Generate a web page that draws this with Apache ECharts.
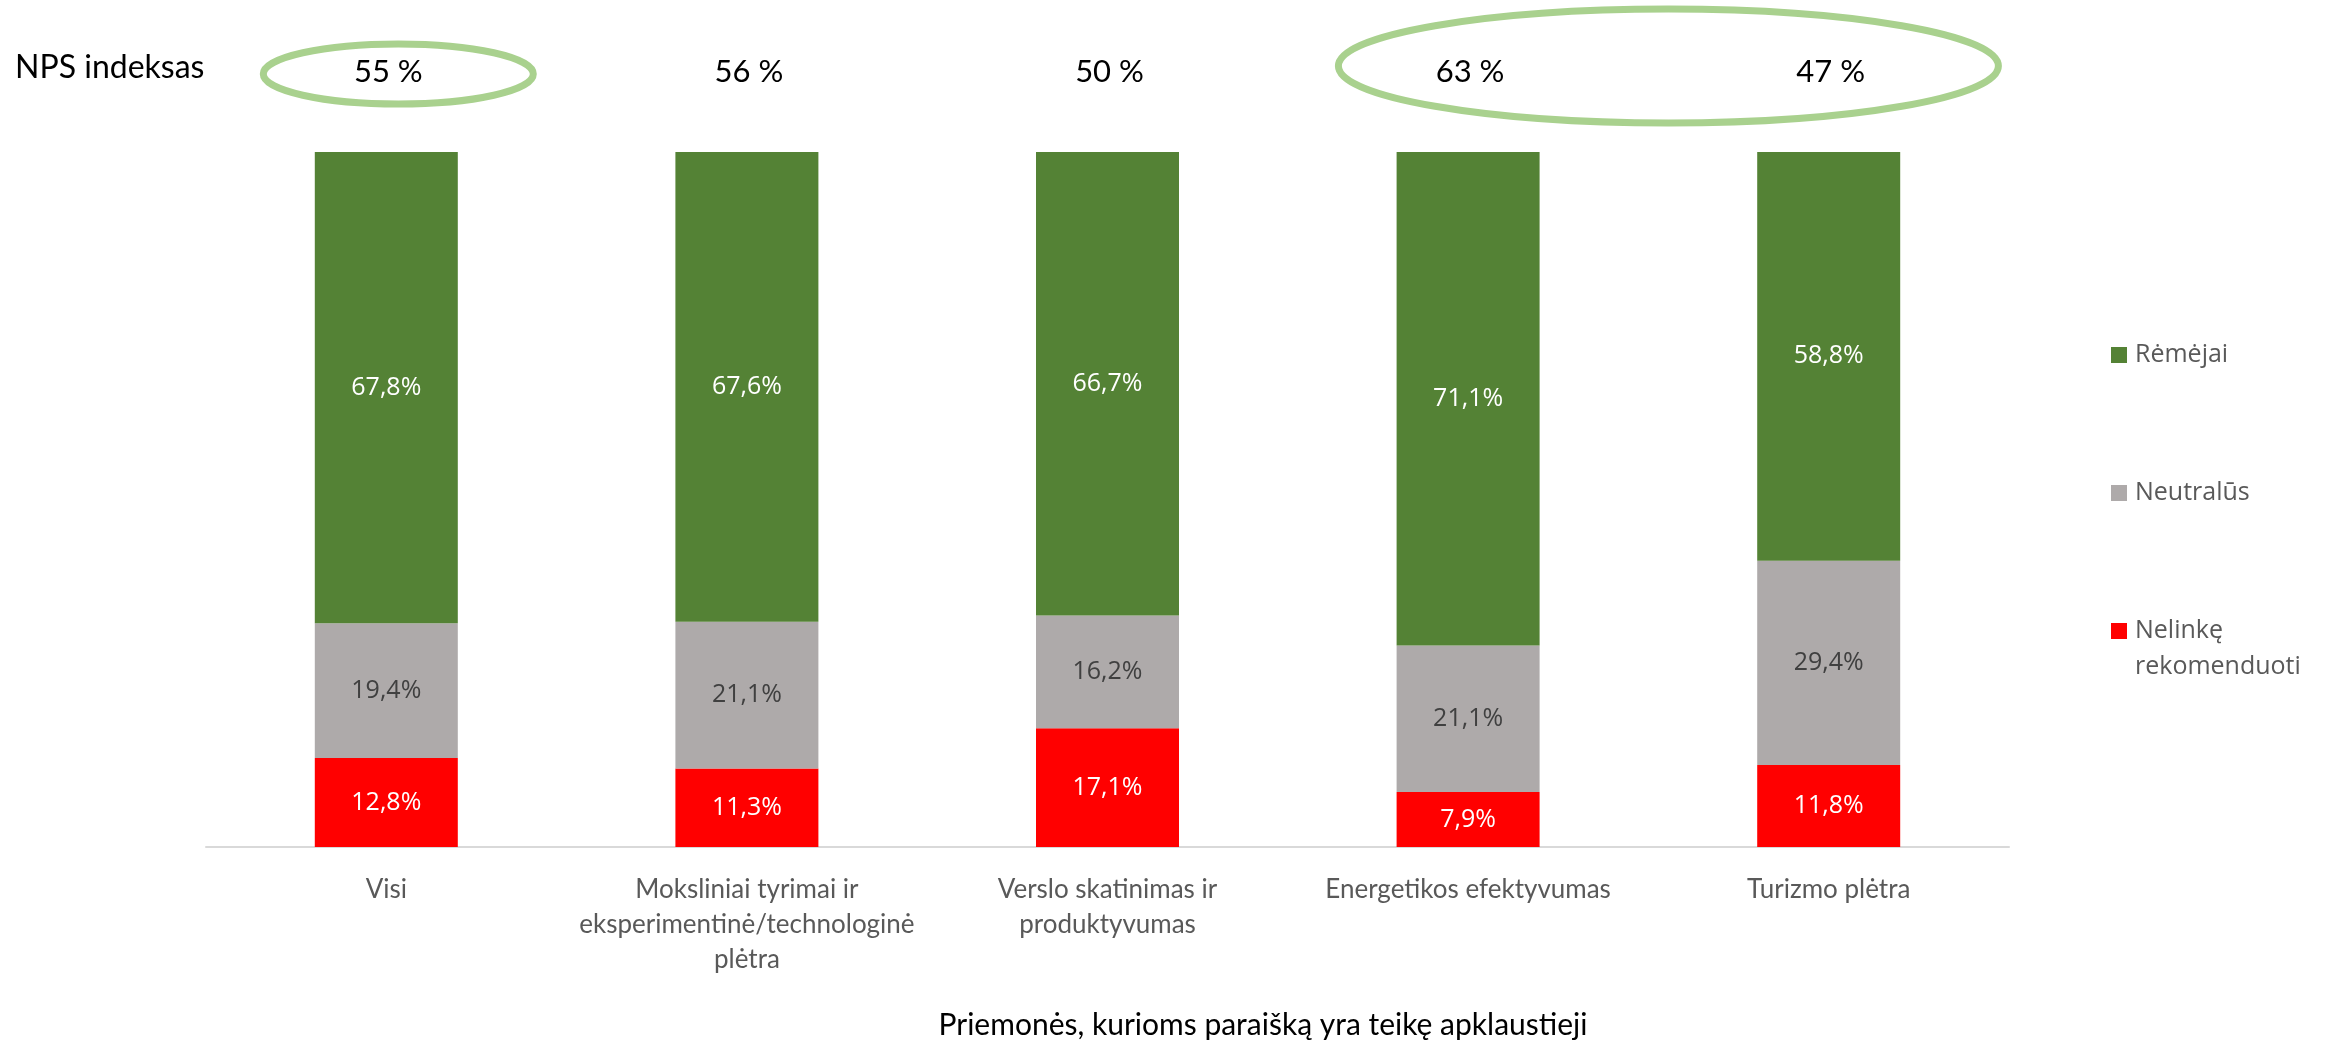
<!DOCTYPE html>
<html>
<head>
<meta charset="utf-8">
<script src="https://cdn.jsdelivr.net/npm/echarts@6/dist/echarts.min.js"></script>
<style>
html,body{margin:0;padding:0;background:#fff;}
#chart{width:2330px;height:1041px;}
</style>
</head>
<body>
<div id="chart"></div>
<script>
const categories = ['Visi', 'Moksliniai tyrimai ir\neksperimentinė/technologinė\nplėtra', 'Verslo skatinimas ir\nproduktyvumas', 'Energetikos efektyvumas', 'Turizmo plėtra'];
const nelinke = [12.8, 11.3, 17.1, 7.9, 11.8];
const neutralus = [19.4, 21.1, 16.2, 21.1, 29.4];
const remejai = [67.8, 67.6, 66.7, 71.1, 58.8];
const npsIndex = [55, 56, 50, 63, 47];
const seriesNames = ['Rėmėjai', 'Neutralūs', 'Nelinkę rekomenduoti'];

const fmt = p => p.value.toFixed(1).replace('.', ',') + '%';
const labelBase = {show: true, position: 'inside', formatter: fmt, fontFamily: 'Open Sans', fontSize: 25};

const chart = echarts.init(document.getElementById('chart'), null, {renderer: 'canvas'});
const legendBase = {orient: 'vertical', left: 2111, padding: 0, itemWidth: 16, itemHeight: 16, icon: 'rect', selectedMode: false,
  textStyle: {fontFamily: 'Open Sans', fontSize: 25, color: '#595959', lineHeight: 36, padding: [0, 0, 0, 3]}};

chart.setOption({
  animation: false,
  backgroundColor: '#fff',
  grid: {left: 206, right: 321, top: 152, bottom: 194, containLabel: false, outerBoundsMode: 'none'},
  legend: [
    Object.assign({}, legendBase, {data: [seriesNames[0]], top: 355 - 18}),
    Object.assign({}, legendBase, {data: [seriesNames[1]], top: 493 - 18}),
    Object.assign({}, legendBase, {data: [seriesNames[2]], top: 631 - 54,
      formatter: () => '\nNelinkę\nrekomenduoti'})
  ],
  xAxis: {
    type: 'category', data: categories,
    axisLine: {show: true, lineStyle: {color: '#d9d9d9', width: 2}},
    axisTick: {show: false},
    axisLabel: {interval: 0, margin: 25, fontFamily: 'Lato', fontSize: 26, lineHeight: 35, color: '#595959'}
  },
  yAxis: {type: 'value', min: 0, max: 100, show: false, splitLine: {show: false}},
  series: [
    {name: seriesNames[2], type: 'bar', stack: 'a', data: nelinke, barWidth: 143,
      itemStyle: {color: '#FF0000'}, label: Object.assign({}, labelBase, {color: '#ffffff'})},
    {name: seriesNames[1], type: 'bar', stack: 'a', data: neutralus, barWidth: 143,
      itemStyle: {color: '#AEAAAA'}, label: Object.assign({}, labelBase, {color: '#404040'})},
    {name: seriesNames[0], type: 'bar', stack: 'a', data: remejai, barWidth: 143,
      itemStyle: {color: '#548235'}, label: Object.assign({}, labelBase, {color: '#ffffff'})}
  ]
});

const xs = categories.map((c, i) => chart.convertToPixel({xAxisIndex: 0}, i));
const gfx = [];
gfx.push({type: 'text', left: 15, top: 72 - 20, style: {text: 'NPS indeksas', fontFamily: 'Lato', fontSize: 32, fill: '#000'}});
npsIndex.forEach((v, i) => {
  gfx.push({type: 'text', x: xs[i] + 2, y: 72, style: {text: v + ' %', fontFamily: 'Lato', fontSize: 31, fill: '#000', align: 'center', verticalAlign: 'middle'}});
});
gfx.push({type: 'ellipse', shape: {cx: xs[0] + 12, cy: 74, rx: 135, ry: 30}, style: {fill: 'none', stroke: '#A9D18E', lineWidth: 7}});
gfx.push({type: 'ellipse', shape: {cx: (xs[3] + xs[4]) / 2 + 20, cy: 66, rx: 330, ry: 57}, style: {fill: 'none', stroke: '#A9D18E', lineWidth: 7}});
gfx.push({type: 'text', x: 1263, y: 1025, style: {text: 'Priemonės, kurioms paraišką yra teikę apklaustieji', fontFamily: 'Lato', fontSize: 30, fill: '#000', align: 'center', verticalAlign: 'middle'}});
chart.setOption({graphic: gfx});
</script>
</body>
</html>
